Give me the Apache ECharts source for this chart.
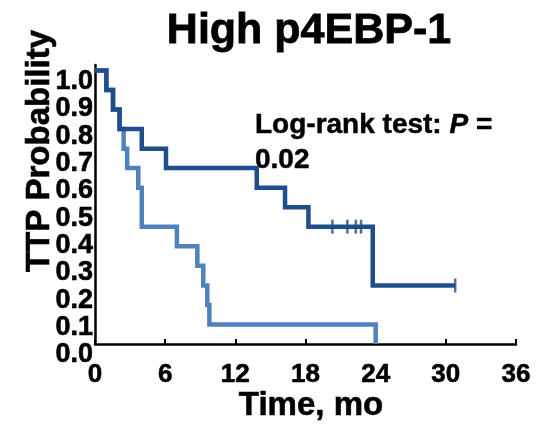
<!DOCTYPE html>
<html>
<head>
<meta charset="utf-8">
<script src="https://cdn.jsdelivr.net/npm/echarts@6/dist/echarts.min.js"></script>
<style>html,body{margin:0;padding:0;background:#fff;}#c{width:550px;height:424px;}</style>
</head>
<body>
<div id="c"></div>
<script>
// High p4EBP-1 group 1 (dark) Kaplan-Meier steps
var darkTimes = [0, 0.97, 1.54, 2.1, 4.0, 6.07, 13.83, 16.25, 18.25, 23.75, 30.8];
var darkSurv  = [1.0, 0.929, 0.857, 0.786, 0.714, 0.643, 0.571, 0.5, 0.429, 0.214, 0.214];
var darkCensorTimes = [20.3, 21.58, 22.3, 22.75, 30.8];
var darkCensorSurv  = [0.429, 0.429, 0.429, 0.429, 0.214];
// group 2 (light)
var lightTimes = [0, 0.97, 1.54, 2.1, 2.45, 2.75, 3.7, 4.0, 7.0, 8.75, 9.26, 9.6, 9.78, 24.0];
var lightSurv  = [1.0, 0.929, 0.857, 0.786, 0.714, 0.643, 0.571, 0.429, 0.357, 0.286, 0.214, 0.143, 0.071, 0.0];
var xTicks = [0, 6, 12, 18, 24, 30, 36];
var yTicks = [0.0, 0.1, 0.2, 0.3, 0.4, 0.5, 0.6, 0.7, 0.8, 0.9, 1.0];

function pairs(a, b) { return a.map(function (v, i) { return [v, b[i]]; }); }

var FONT = '"Liberation Sans", Arial, sans-serif';
var chart = echarts.init(document.getElementById('c'), null, {renderer: 'canvas'});
chart.setOption({
  animation: false,
  backgroundColor: '#ffffff',
  grid: {left: 95, right: 34, top: 65, bottom: 80, containLabel: false},
  xAxis: {
    type: 'value', min: xTicks[0], max: xTicks[xTicks.length - 1], interval: 6,
    splitLine: {show: false},
    axisLine: {show: true, lineStyle: {color: '#000', width: 2.5}},
    axisTick: {show: true, inside: true, length: 5, lineStyle: {color: '#000', width: 2}},
    axisLabel: {fontSize: 26, fontWeight: 'bold', color: '#000', fontFamily: FONT, margin: 18,
      showMinLabel: true, showMaxLabel: true, hideOverlap: false,
      textBorderColor: '#000', textBorderWidth: 0.6}
  },
  yAxis: {
    type: 'value', min: 0, max: 1.02, interval: 0.1,
    splitLine: {show: false},
    axisLine: {show: true, lineStyle: {color: '#000', width: 2.5}},
    axisTick: {show: false},
    axisLabel: {show: false}
  },
  series: [
    {type: 'line', step: 'end', data: pairs(lightTimes, lightSurv), showSymbol: false, symbol: 'none',
     lineStyle: {color: '#4F81BD', width: 4.5, join: 'miter'}, z: 2},
    {type: 'line', step: 'end', data: pairs(darkTimes, darkSurv), showSymbol: false, symbol: 'none',
     lineStyle: {color: '#1F4E8A', width: 4.5, join: 'miter'}, z: 3},
    {type: 'scatter', data: pairs(darkCensorTimes, darkCensorSurv), symbol: 'rect', symbolSize: [2.5, 14],
     itemStyle: {color: '#1F4E8A'}, z: 4}
  ]
});

// y tick labels placed through the y axis scale (drawn slightly below each tick, as in the original)
var graphics = yTicks.map(function (v) {
  var py = chart.convertToPixel({yAxisIndex: 0}, v);
  return {type: 'text', x: 93, y: py + 11, z: 10, style: {
    text: v.toFixed(1), font: 'bold 27px ' + FONT, fill: '#000', stroke: '#000', lineWidth: 0.6,
    textAlign: 'right', textVerticalAlign: 'middle'}};
});
graphics.push(
  {type: 'text', x: 309, y: 31, style: {text: 'High p4EBP-1', font: 'bold 43px ' + FONT, fill: '#000', textAlign: 'center', textVerticalAlign: 'middle', stroke: '#000', lineWidth: 0.8}},
  {type: 'text', x: 40, y: 151, rotation: Math.PI / 2, style: {text: 'TTP Probability', font: 'bold 33px ' + FONT, fill: '#000', textAlign: 'center', textVerticalAlign: 'middle', stroke: '#000', lineWidth: 0.6}},
  {type: 'text', x: 311, y: 406, style: {text: 'Time, mo', font: 'bold 33px ' + FONT, fill: '#000', textAlign: 'center', textVerticalAlign: 'middle', stroke: '#000', lineWidth: 0.6}},
  {type: 'text', x: 255, y: 125, style: {
    text: '{b|Log-rank test: }{i|P}{b| =}', textVerticalAlign: 'middle', textAlign: 'left',
    rich: {
      b: {fontFamily: FONT, fontWeight: 'bold', fontSize: 28, fill: '#000', stroke: '#000', lineWidth: 0.5},
      i: {fontFamily: FONT, fontWeight: 'bold', fontStyle: 'italic', fontSize: 28, fill: '#000', stroke: '#000', lineWidth: 0.5}
    }}},
  {type: 'text', x: 255, y: 160, style: {text: '0.02', font: 'bold 28px ' + FONT, fill: '#000', textAlign: 'left', textVerticalAlign: 'middle', stroke: '#000', lineWidth: 0.5}}
);
chart.setOption({graphic: graphics});
</script>
</body>
</html>
